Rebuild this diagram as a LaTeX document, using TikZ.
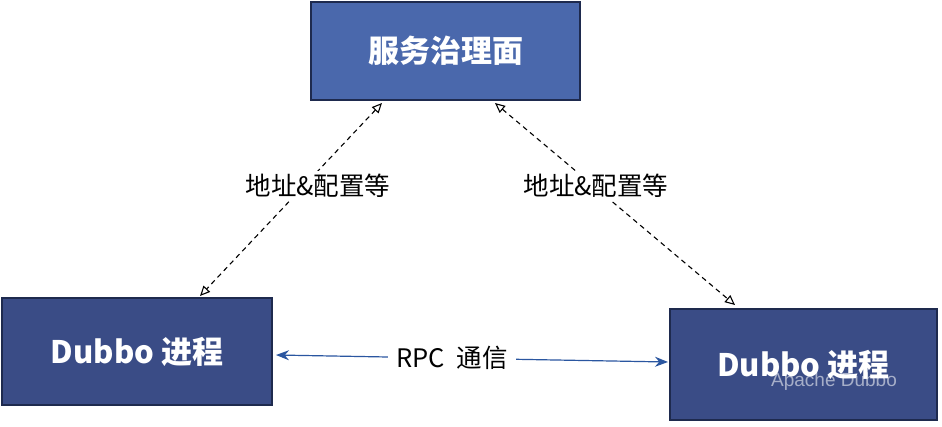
\documentclass[tikz,border=0pt]{standalone}
\usepackage{fontspec}
\setmainfont{Liberation Sans}
\newfontfamily\cjk{Noto Sans CJK SC}
\usetikzlibrary{arrows.meta}
\definecolor{topc}{HTML}{4A68AC}
\definecolor{boxc}{HTML}{3A4C86}
\definecolor{edge}{HTML}{1E2A4E}
\definecolor{rpc}{HTML}{2A56A0}
\begin{document}
\begin{tikzpicture}[x=1pt,y=-1pt,
  box/.style={draw=edge,line width=1.2pt,text=white,font=\cjk\fontsize{31}{36}\selectfont\bfseries},
  dashar/.style={dash pattern=on 5pt off 4pt,line width=1.1pt,{Triangle[open,length=10pt,width=9pt]}-{Triangle[open,length=10pt,width=9pt]}},
  lbl/.style={fill=white,font=\cjk\fontsize{25.5}{30}\selectfont,inner sep=3pt}]
\useasboundingbox (0,0) rectangle (942,426);
\fill[white] (0,0) rectangle (942,426);
\node[box,fill=topc,minimum width=269pt,minimum height=98pt] (top) at (445.5,51) {服务治理面};
\node[box,fill=boxc,minimum width=270pt,minimum height=107pt] (left) at (137,351.5) {Dubbo 进程};
\node[box,fill=boxc,minimum width=267pt,minimum height=111pt] (right) at (803.5,364.5) {Dubbo 进程};
\coordinate (a1) at (382,103); \coordinate (a2) at (200,296);
\coordinate (b1) at (495,103); \coordinate (b2) at (735,305);
\draw[dashar] (a1) -- (a2);
\draw[dashar] (b1) -- (b2);
\node[lbl] (l1) at (318,186) {地址\&配置等};
\node[lbl] (l2) at (596,186) {地址\&配置等};
\coordinate (r1) at (276,355); \coordinate (r2) at (668,362);
\draw[rpc,line width=1.2pt,{Stealth[length=13pt,width=10pt]}-{Stealth[length=13pt,width=10pt]}] (r1) -- (r2);
\node[lbl,inner xsep=8pt] (rl) at (452,358) {RPC\ \ 通信};
\node[text=white,opacity=0.55,font=\fontsize{19}{22}\selectfont] (wm) at (834,382) {Apache Dubbo};
\end{tikzpicture}
\end{document}
